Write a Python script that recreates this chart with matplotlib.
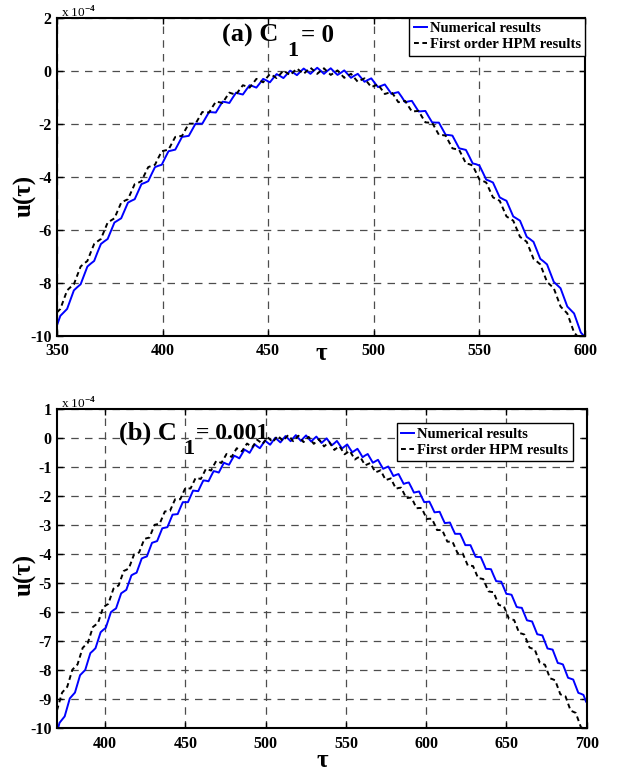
import numpy as np
import matplotlib.pyplot as plt

plt.rcParams['font.family'] = ['Liberation Serif', 'DejaVu Serif']
plt.rcParams['font.weight'] = 'bold'
plt.rcParams['axes.unicode_minus'] = False
plt.rcParams['mathtext.fontset'] = 'custom'
plt.rcParams['mathtext.rm'] = 'Liberation Serif'

# sample grids (tau)
tau_a = np.linspace(350, 599.6, 157)
tau_b = np.linspace(370, 699.6, 207)

# (a) C1 = 0, values in units of 1e-4
num_a = [
    -9.61, -9.25, -9.12, -8.99, -8.64, -8.29, -8.17, -8.06, -7.72, -7.39,
    -7.28, -7.18, -6.85, -6.54, -6.44, -6.35, -6.04, -5.73, -5.65, -5.57,
    -5.27, -4.98, -4.91, -4.85, -4.56, -4.28, -4.23, -4.17, -3.90, -3.64,
    -3.59, -3.55, -3.29, -3.04, -3.01, -2.98, -2.74, -2.50, -2.48, -2.46,
    -2.23, -2.00, -2.00, -2.00, -1.78, -1.56, -1.57, -1.58, -1.37, -1.17,
    -1.19, -1.22, -1.02, -0.83, -0.87, -0.90, -0.72, -0.55, -0.59, -0.64,
    -0.48, -0.31, -0.37, -0.44, -0.28, -0.13, -0.20, -0.28, -0.14, 0.00,
    -0.08, -0.17, -0.04, 0.08, -0.02, -0.12, 0.00, 0.11, 0.00, -0.12,
    -0.01, 0.09, -0.04, -0.16, -0.08, 0.01, -0.13, -0.27, -0.19, -0.12,
    -0.27, -0.42, -0.35, -0.29, -0.46, -0.62, -0.57, -0.52, -0.70, -0.88,
    -0.84, -0.81, -0.99, -1.19, -1.16, -1.14, -1.34, -1.54, -1.53, -1.52,
    -1.74, -1.95, -1.96, -1.96, -2.19, -2.42, -2.43, -2.45, -2.69, -2.93,
    -2.96, -2.99, -3.24, -3.50, -3.53, -3.58, -3.84, -4.11, -4.16, -4.22,
    -4.50, -4.78, -4.85, -4.91, -5.21, -5.50, -5.58, -5.66, -5.96, -6.27,
    -6.36, -6.46, -6.78, -7.10, -7.20, -7.31, -7.64, -7.97, -8.09, -8.21,
    -8.55, -8.90, -9.03, -9.16, -9.52, -9.88, -10.02]
hpm_a = [
    -9.12, -8.99, -8.64, -8.29, -8.17, -8.06, -7.72, -7.39, -7.28, -7.18,
    -6.85, -6.54, -6.44, -6.35, -6.04, -5.73, -5.65, -5.57, -5.27, -4.98,
    -4.91, -4.85, -4.56, -4.28, -4.23, -4.17, -3.90, -3.64, -3.59, -3.55,
    -3.29, -3.04, -3.01, -2.98, -2.74, -2.50, -2.48, -2.46, -2.23, -2.00,
    -2.00, -2.00, -1.78, -1.56, -1.57, -1.58, -1.37, -1.17, -1.19, -1.22,
    -1.02, -0.83, -0.87, -0.90, -0.72, -0.55, -0.59, -0.64, -0.48, -0.31,
    -0.37, -0.44, -0.28, -0.13, -0.20, -0.28, -0.14, 0.00, -0.08, -0.17,
    -0.04, 0.08, -0.02, -0.12, 0.00, 0.11, 0.00, -0.12, -0.01, 0.09,
    -0.04, -0.16, -0.08, 0.01, -0.13, -0.27, -0.19, -0.12, -0.27, -0.42,
    -0.35, -0.29, -0.46, -0.62, -0.57, -0.52, -0.70, -0.88, -0.84, -0.81,
    -0.99, -1.19, -1.16, -1.14, -1.34, -1.54, -1.53, -1.52, -1.74, -1.95,
    -1.96, -1.96, -2.19, -2.42, -2.43, -2.45, -2.69, -2.93, -2.96, -2.99,
    -3.24, -3.50, -3.53, -3.58, -3.84, -4.11, -4.16, -4.22, -4.50, -4.78,
    -4.85, -4.91, -5.21, -5.50, -5.58, -5.66, -5.96, -6.27, -6.36, -6.46,
    -6.78, -7.10, -7.20, -7.31, -7.64, -7.97, -8.09, -8.21, -8.55, -8.90,
    -9.03, -9.16, -9.52, -9.88, -10.02, -10.16, -10.53]

# (b) C1 = 0.001
num_b = [
    -10.13, -9.81, -9.70, -9.59, -9.28, -8.97, -8.87, -8.77, -8.47, -8.17,
    -8.08, -7.99, -7.70, -7.41, -7.33, -7.24, -6.96, -6.69, -6.61, -6.54,
    -6.27, -6.00, -5.93, -5.87, -5.61, -5.35, -5.29, -5.23, -4.98, -4.73,
    -4.68, -4.64, -4.39, -4.15, -4.11, -4.08, -3.84, -3.61, -3.58, -3.55,
    -3.33, -3.11, -3.09, -3.07, -2.85, -2.64, -2.63, -2.62, -2.41, -2.21,
    -2.21, -2.21, -2.01, -1.81, -1.82, -1.83, -1.64, -1.46, -1.47, -1.49,
    -1.31, -1.14, -1.16, -1.19, -1.02, -0.85, -0.89, -0.92, -0.76, -0.61,
    -0.65, -0.70, -0.55, -0.40, -0.45, -0.51, -0.36, -0.22, -0.29, -0.35,
    -0.22, -0.09, -0.16, -0.23, -0.11, 0.01, -0.07, -0.15, -0.04, 0.07,
    -0.02, -0.11, 0.00, 0.10, 0.00, -0.10, 0.00, 0.09, -0.02, -0.12,
    -0.03, 0.05, -0.06, -0.17, -0.09, -0.01, -0.13, -0.25, -0.18, -0.10,
    -0.23, -0.36, -0.29, -0.22, -0.36, -0.49, -0.43, -0.37, -0.51, -0.66,
    -0.60, -0.55, -0.70, -0.85, -0.80, -0.75, -0.91, -1.06, -1.02, -0.98,
    -1.14, -1.31, -1.27, -1.24, -1.41, -1.58, -1.55, -1.53, -1.70, -1.88,
    -1.86, -1.84, -2.03, -2.21, -2.20, -2.19, -2.37, -2.56, -2.55, -2.54,
    -2.74, -2.93, -2.92, -2.91, -3.11, -3.30, -3.30, -3.30, -3.49, -3.69,
    -3.69, -3.69, -3.89, -4.09, -4.10, -4.10, -4.30, -4.51, -4.51, -4.52,
    -4.73, -4.93, -4.94, -4.95, -5.16, -5.37, -5.38, -5.40, -5.61, -5.82,
    -5.84, -5.85, -6.07, -6.28, -6.30, -6.32, -6.54, -6.76, -6.78, -6.80,
    -7.02, -7.25, -7.27, -7.29, -7.52, -7.75, -7.77, -7.80, -8.03, -8.26,
    -8.29, -8.32, -8.55, -8.78, -8.81, -8.85, -9.08]
hpm_b = [
    -9.38, -9.07, -8.77, -8.67, -8.57, -8.27, -7.98, -7.89, -7.80, -7.51,
    -7.23, -7.14, -7.06, -6.79, -6.51, -6.44, -6.37, -6.10, -5.83, -5.77,
    -5.71, -5.45, -5.19, -5.13, -5.08, -4.83, -4.58, -4.54, -4.49, -4.25,
    -4.01, -3.98, -3.94, -3.71, -3.48, -3.45, -3.43, -3.21, -2.99, -2.97,
    -2.95, -2.74, -2.53, -2.52, -2.51, -2.31, -2.11, -2.11, -2.11, -1.91,
    -1.72, -1.73, -1.74, -1.56, -1.37, -1.39, -1.41, -1.24, -1.06, -1.09,
    -1.12, -0.95, -0.79, -0.82, -0.86, -0.71, -0.55, -0.60, -0.65, -0.50,
    -0.35, -0.41, -0.46, -0.32, -0.19, -0.25, -0.32, -0.19, -0.06, -0.13,
    -0.21, -0.09, 0.03, -0.05, -0.14, -0.03, 0.08, -0.01, -0.10, 0.00,
    0.10, 0.00, -0.11, -0.01, 0.08, -0.03, -0.14, -0.05, 0.04, -0.08,
    -0.20, -0.12, -0.04, -0.16, -0.29, -0.21, -0.14, -0.27, -0.41, -0.34,
    -0.28, -0.42, -0.56, -0.50, -0.44, -0.59, -0.74, -0.68, -0.64, -0.79,
    -0.94, -0.90, -0.86, -1.02, -1.18, -1.15, -1.11, -1.28, -1.45, -1.42,
    -1.39, -1.57, -1.75, -1.72, -1.71, -1.89, -2.07, -2.06, -2.05, -2.23,
    -2.42, -2.41, -2.41, -2.60, -2.79, -2.78, -2.78, -2.97, -3.17, -3.17,
    -3.17, -3.37, -3.57, -3.57, -3.57, -3.77, -3.97, -3.98, -3.98, -4.19,
    -4.40, -4.40, -4.41, -4.62, -4.83, -4.84, -4.86, -5.07, -5.28, -5.30,
    -5.31, -5.53, -5.75, -5.77, -5.79, -6.01, -6.23, -6.25, -6.27, -6.49,
    -6.72, -6.74, -6.77, -7.00, -7.22, -7.25, -7.28, -7.51, -7.74, -7.78,
    -7.81, -8.04, -8.28, -8.31, -8.35, -8.59, -8.83, -8.86, -8.90, -9.15,
    -9.39, -9.43, -9.47, -9.72, -9.96, -10.01, -10.06]

fig = plt.figure(figsize=(6.22, 7.71), dpi=100)
ax1 = fig.add_axes([0.0916, 0.5646, 0.849, 0.4125])
ax2 = fig.add_axes([0.0916, 0.0554, 0.8516, 0.4141])


def style(ax, xlim, ylim, xticks, yticks, xlab_y, ylab_y):
    ax.set_xlim(xlim)
    ax.set_ylim(ylim)
    ax.set_xticks(xticks)
    ax.set_yticks(yticks)
    ax.grid(True, color='0.3', linestyle=(0, (6, 5)), linewidth=0.9)
    ax.tick_params(direction='in', top=True, right=True, length=4, width=1,
                   labelsize=11.5)
    ax.tick_params(axis='x', pad=5.5)
    ax.tick_params(axis='y', pad=4)
    for s in ax.spines.values():
        s.set_linewidth(1.5)
    ax.set_xlabel('τ', fontsize=18, fontweight='bold')
    ax.set_ylabel('u(τ)', fontsize=18, fontweight='bold')
    ax.xaxis.set_label_coords(0.5, xlab_y)
    ax.xaxis.label.set_va('center')
    ax.yaxis.set_label_coords(-0.06, ylab_y)
    ax.yaxis.label.set_va('center')
    ax.text(0.008, 1.0, r'x 10$^{-4}$', transform=ax.transAxes, fontsize=9.5,
            fontweight='normal', va='baseline', ha='left')


def add_legend(ax, anchor):
    ax.legend(loc='upper right', bbox_to_anchor=anchor, fontsize=10.5,
              frameon=True, fancybox=False, edgecolor='black', framealpha=1,
              borderpad=0.3, labelspacing=0.2, handlelength=0.9,
              handletextpad=0.2, borderaxespad=0.0)


# top panel
ax1.plot(tau_a, num_a, color='blue', lw=1.4, label='Numerical results')
ax1.plot(tau_a, hpm_a, color='black', lw=1.4, linestyle=(0, (2.5, 1.8)),
         label='First order HPM results')
style(ax1, (350, 600), (-10, 2), range(350, 601, 50), range(-10, 3, 2),
      -0.055, 0.44)
add_legend(ax1, (1.0, 1.0))
ax1.text(0.3125, 0.9245, '(a) C', transform=ax1.transAxes, fontsize=19,
         fontweight='bold', va='baseline')
ax1.text(0.436, 0.878, '1', transform=ax1.transAxes, fontsize=16,
         fontweight='bold', va='baseline')
ax1.text(0.462, 0.9245, '= 0', transform=ax1.transAxes, fontsize=18,
         fontweight='bold', va='baseline')

# bottom panel
ax2.plot(tau_b, num_b, color='blue', lw=1.4, label='Numerical results')
ax2.plot(tau_b, hpm_b, color='black', lw=1.4, linestyle=(0, (2.5, 1.8)),
         label='First order HPM results')
style(ax2, (370, 700), (-10, 1), range(400, 701, 50), range(-10, 2, 1),
      -0.1, 0.48)
add_legend(ax2, (0.974, 0.956))
ax2.text(0.118, 0.905, '(b) C', transform=ax2.transAxes, fontsize=19,
         fontweight='bold', va='baseline')
ax2.text(0.238, 0.858, '1', transform=ax2.transAxes, fontsize=16,
         fontweight='bold', va='baseline')
ax2.text(0.262, 0.905, '= 0.001', transform=ax2.transAxes, fontsize=17,
         fontweight='bold', va='baseline')

fig.savefig('out.png', dpi=100)
